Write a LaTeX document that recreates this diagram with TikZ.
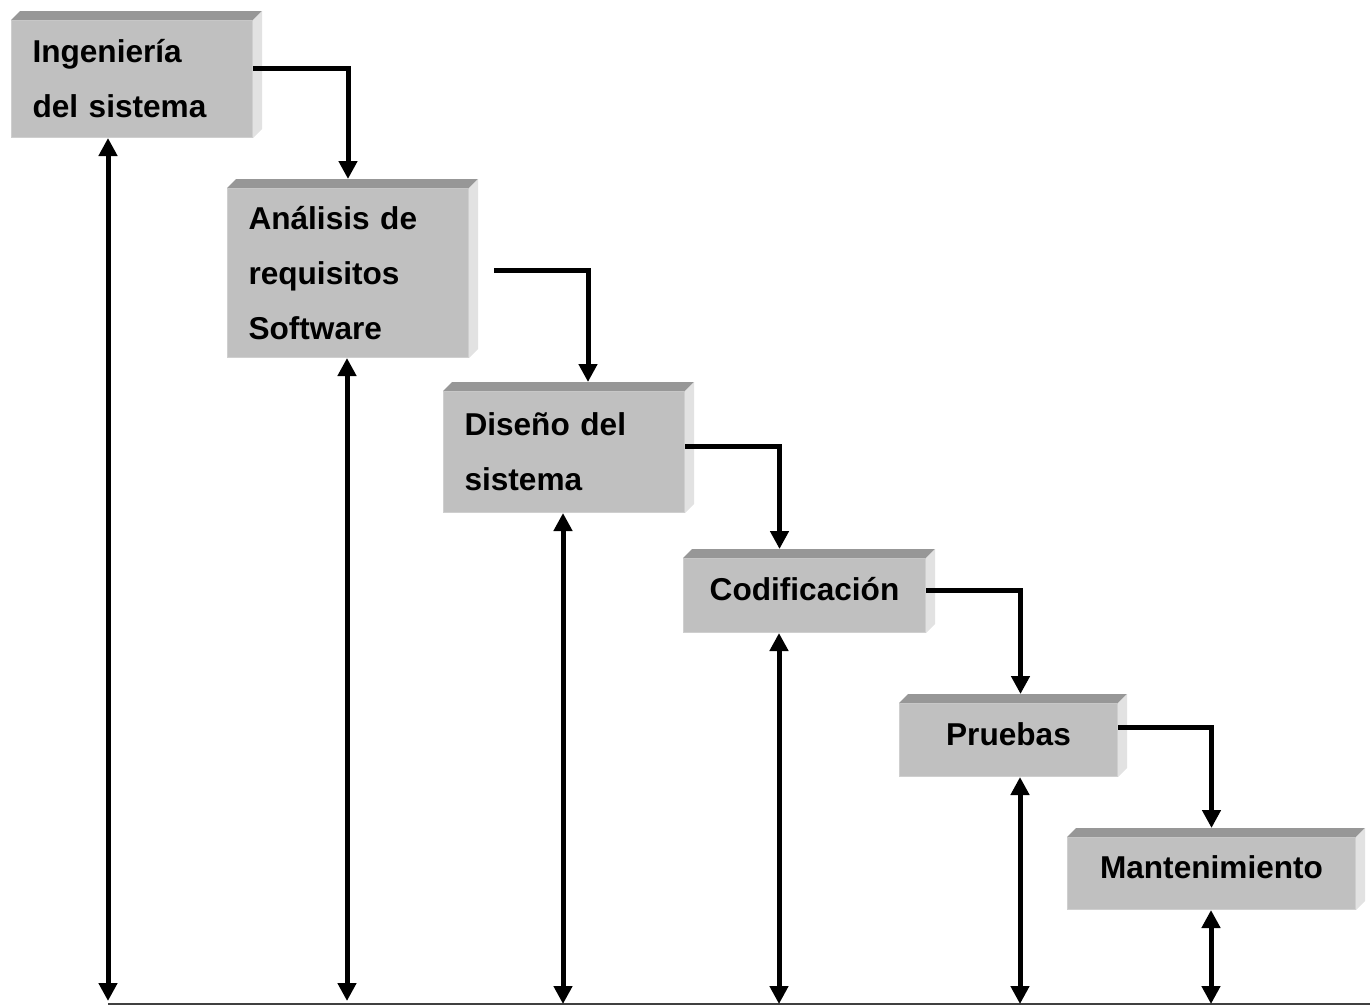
\documentclass[tikz,border=0pt]{standalone}
\usepackage{fontspec}
\setmainfont{Liberation Sans}
\usepackage{tikz}
\usetikzlibrary{arrows.meta}
\definecolor{frontgray}{HTML}{C0C0C0}
\definecolor{topgray}{HTML}{979797}
\definecolor{sidegray}{HTML}{E2E2E2}
\definecolor{edgegray}{HTML}{CFCFCF}
\definecolor{linegray}{HTML}{404040}

\tikzset{
  stage/.style={fill=frontgray, draw=edgegray, line width=1pt, anchor=north west,
                inner sep=0pt, font=\bfseries\fontsize{31.6}{55}\selectfont},
  stageleft/.style={stage, align=left, text width=199pt, inner xsep=21pt},
  stageone/.style={stage, text height=23pt, text depth=13pt},
  topface/.style={fill=topgray},
  sideface/.style={fill=sidegray},
  flow/.style={line width=5pt, -{Triangle[length=18pt,width=18pt]}},
  dual/.style={line width=5pt, {Triangle[length=18pt,width=18pt]}-{Triangle[length=18pt,width=18pt]}},
  groundline/.style={draw=linegray, line width=1.5pt}
}

\begin{document}
\begin{tikzpicture}[x=1pt, y=-1pt]
  \useasboundingbox (0,0) rectangle (1370,1005);

  % stages of the cascade
  \node[stageleft, minimum height=117pt] (ing) at (11,20) {Ingeniería\\del sistema};
  \node[stageleft, minimum height=169pt] (ana) at (227,188) {Análisis de\\requisitos\\Software};
  \node[stageleft, minimum height=121pt] (dis) at (443,391) {Diseño del\\sistema};
  \node[stageone, minimum width=242pt, minimum height=74pt] (cod) at (683,558) {Codificación};
  \node[stageone, minimum width=218pt, minimum height=73pt] (pru) at (899,703) {Pruebas};
  \node[stageone, minimum width=288pt, minimum height=72pt] (man) at (1067,837) {Mantenimiento};

  % bevel faces
  \foreach \n in {ing,ana,dis,cod,pru,man} {
    \fill[topface] (\n.north west) -- ++(9,-9) -- ([xshift=9pt,yshift=9pt]\n.north east)
      -- (\n.north east) -- cycle;
    \fill[sideface] (\n.north east) -- ([xshift=9pt,yshift=9pt]\n.north east)
      -- ([xshift=9pt,yshift=9pt]\n.south east) -- (\n.south east) -- cycle;
  }

  % ground line
  \coordinate (b1) at (108,1001);
  \coordinate (b2) at (347,1001);
  \coordinate (b3) at (563,1004);
  \coordinate (b4) at (779,1004);
  \coordinate (b5) at (1020,1004);
  \coordinate (b6) at (1211,1004);
  \coordinate (bend) at (1370,1004);
  \draw[groundline] (108,1004) -- (bend);

  % flow between stages
  \draw[flow] ([yshift=-48pt]ing.north east) -| ([yshift=9pt]ana.north);
  \draw[flow] ([xshift=25pt,yshift=-82pt]ana.north east) -| ([xshift=24pt,yshift=9pt]dis.north);
  \draw[flow] ([yshift=-55pt]dis.north east) -| ([xshift=-25pt,yshift=9pt]cod.north);
  \draw[flow] ([yshift=-32pt]cod.north east) -| ([xshift=12pt,yshift=9pt]pru.north);
  \draw[flow] ([yshift=-24pt]pru.north east) -| ([yshift=9pt]man.north);

  % feedback to the ground line
  \draw[dual] (b1 |- ing.south) -- (b1);
  \draw[dual] (b2 |- ana.south) -- (b2);
  \draw[dual] (b3 |- dis.south) -- (b3);
  \draw[dual] (b4 |- cod.south) -- (b4);
  \draw[dual] (b5 |- pru.south) -- (b5);
  \draw[dual] (b6 |- man.south) -- (b6);
\end{tikzpicture}
\end{document}
